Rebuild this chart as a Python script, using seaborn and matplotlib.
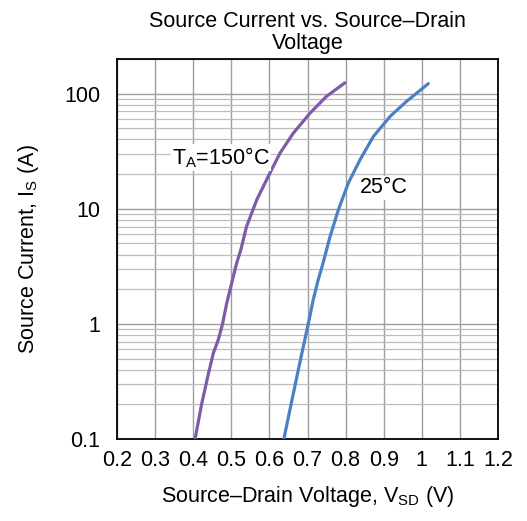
import numpy as np
import pandas as pd
import matplotlib
matplotlib.use("Agg")
import matplotlib.pyplot as plt
from matplotlib.ticker import FixedLocator, FixedFormatter, LogLocator, NullFormatter
import seaborn as sns

# values
vsd_150 = [0.405, 0.422, 0.440, 0.453, 0.466, 0.477, 0.488, 0.501, 0.514, 0.525,
           0.540, 0.567, 0.597, 0.628, 0.663, 0.707, 0.750, 0.798]
is_150 = [0.10, 0.20, 0.37, 0.56, 0.73, 1.0, 1.51, 2.26, 3.37, 4.4,
          7.0, 12.0, 19.1, 30.5, 45.5, 67.9, 94.8, 124]

vsd_25 = [0.638, 0.650, 0.663, 0.676, 0.689, 0.702, 0.715, 0.728, 0.740, 0.759,
          0.781, 0.807, 0.838, 0.873, 0.917, 0.960, 1.017]
is_25 = [0.10, 0.156, 0.25, 0.40, 0.635, 1.0, 1.62, 2.41, 3.3, 5.7,
         9.8, 16.7, 26.7, 42.5, 63.5, 85.7, 122]

x_ticks = [0.2, 0.3, 0.4, 0.5, 0.6, 0.7, 0.8, 0.9, 1.0, 1.1, 1.2]
x_labels = ["0.2", "0.3", "0.4", "0.5", "0.6", "0.7", "0.8", "0.9", "1", "1.1", "1.2"]
y_ticks = [0.1, 1, 10, 100]
y_labels = ["0.1", "1", "10", "100"]

df = pd.concat([
    pd.DataFrame({"V": vsd_150, "I": is_150, "T": "150"}),
    pd.DataFrame({"V": vsd_25, "I": is_25, "T": "25"}),
])

sns.set_style("white")
plt.rcParams["font.family"] = ["Liberation Sans", "DejaVu Sans"]
plt.rcParams["mathtext.fontset"] = "custom"
plt.rcParams["mathtext.rm"] = "Liberation Sans"
plt.rcParams["mathtext.it"] = "Liberation Sans"
for k in ["text.color", "axes.labelcolor", "xtick.color", "ytick.color"]:
    plt.rcParams[k] = "black"

fs = 15.5
fig = plt.figure(figsize=(5.27, 5.21), dpi=100)
ax = fig.add_axes([0.222, 0.1574, 0.723, 0.7294])

sns.lineplot(data=df, x="V", y="I", hue="T", sort=False, estimator=None,
             palette={"150": "#7d5ba6", "25": "#4b80c3"}, linewidth=2.3,
             legend=False, ax=ax, zorder=3)

ax.set_yscale("log")
ax.set_xlim(0.2, 1.2)
ax.set_ylim(0.1, 200)

ax.xaxis.set_major_locator(FixedLocator(x_ticks))
ax.xaxis.set_major_formatter(FixedFormatter(x_labels))
ax.yaxis.set_major_locator(FixedLocator(y_ticks))
ax.yaxis.set_major_formatter(FixedFormatter(y_labels))
ax.yaxis.set_minor_locator(LogLocator(base=10, subs=np.arange(2, 10)))
ax.yaxis.set_minor_formatter(NullFormatter())

ax.grid(True, which="major", axis="both", color="#9e9e9e", linewidth=1.0, zorder=0)
ax.grid(True, which="minor", axis="y", color="#bdbdbd", linewidth=0.9, zorder=0)
ax.tick_params(axis="both", which="both", length=0, labelsize=fs)
ax.tick_params(axis="x", pad=8)
ax.tick_params(axis="y", pad=12)

for s in ax.spines.values():
    s.set_color("black")
    s.set_linewidth(1.3)
    s.set_visible(True)

ax.set_xlabel("Source–Drain Voltage, V$_\\mathregular{SD}$ (V)", fontsize=fs, labelpad=9)
ax.set_ylabel("Source Current, I$_\\mathregular{S}$ (A)", fontsize=fs, labelpad=17)
ax.set_title("Source Current vs. Source–Drain\nVoltage", fontsize=fs, pad=7, linespacing=1.1)

box = dict(facecolor="white", edgecolor="none", pad=1)
ax.text(0.344, 27.8, "T$_\\mathregular{A}$=150°C", fontsize=fs, ha="left", va="center",
        bbox=box, zorder=4)
ax.text(0.838, 15.2, "25°C", fontsize=fs, ha="left", va="center", bbox=box, zorder=4)

fig.savefig("out.png", dpi=100)
